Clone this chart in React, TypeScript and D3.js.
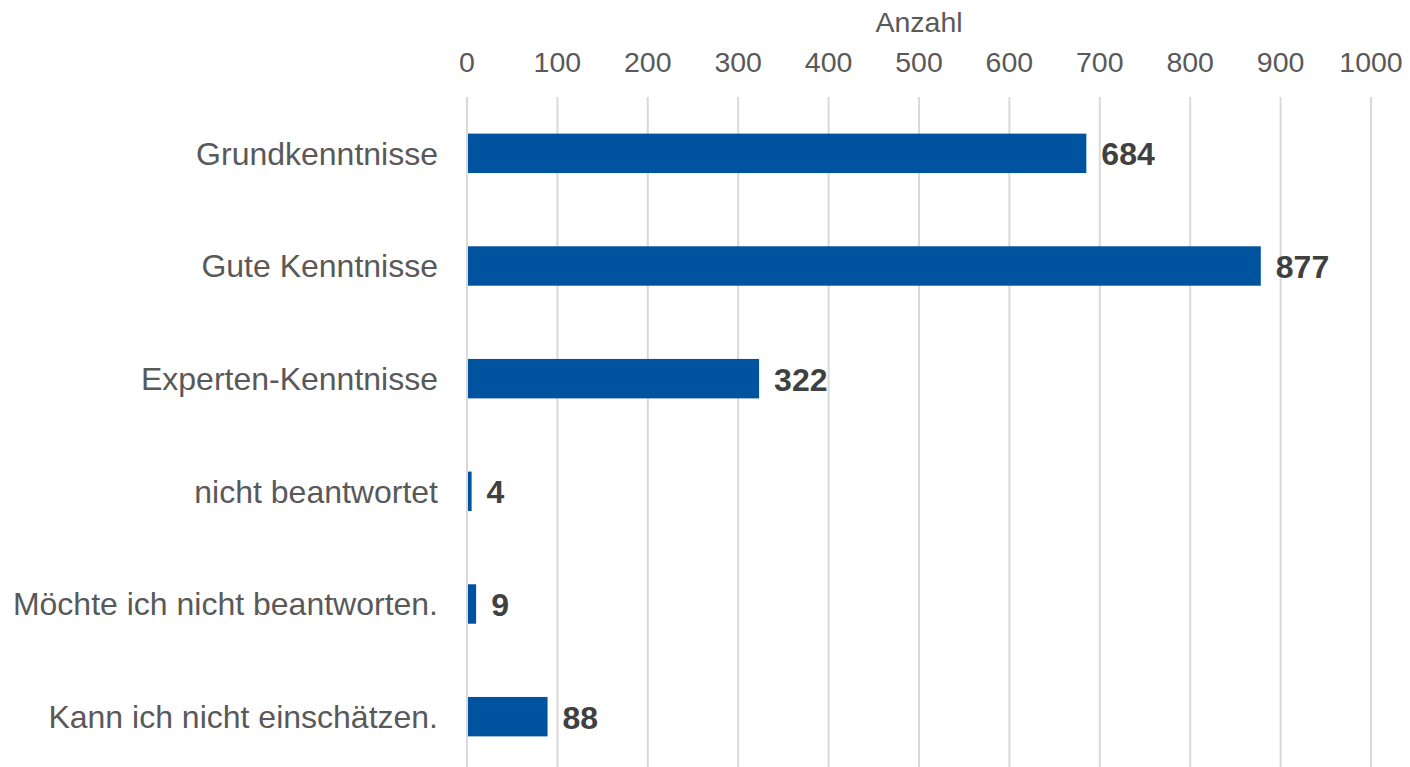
import React from "react";
import * as d3 from "d3";

const categories = [
  "Grundkenntnisse",
  "Gute Kenntnisse",
  "Experten-Kenntnisse",
  "nicht beantwortet",
  "Möchte ich nicht beantworten.",
  "Kann ich nicht einschätzen.",
];
const values = [684, 877, 322, 4, 9, 88];
const xTicks = [0, 100, 200, 300, 400, 500, 600, 700, 800, 900, 1000];
const axisTitle = "Anzahl";

const W = 1410;
const H = 767;

export default function App() {
  const x = d3.scaleLinear().domain([0, 1000]).range([467, 1371]);
  const y = d3
    .scaleBand<string>()
    .domain(categories)
    .range([97, 773])
    .paddingInner(0.65)
    .paddingOuter(0.325);
  const font = "'Liberation Sans', Arial, sans-serif";
  return (
    <svg
      width={W}
      height={H}
      style={{ position: "absolute", left: 0, top: 0, background: "#fff" }}
      fontFamily={font}
    >
      <text x={(x(0) + x(1000)) / 2} y={32} textAnchor="middle" fontSize={28.5} fill="#595959">
        {axisTitle}
      </text>
      {xTicks.map((t) => (
        <g key={t}>
          <line x1={x(t)} x2={x(t)} y1={97} y2={H} stroke="#d9d9d9" strokeWidth={2} />
          <text x={x(t)} y={72} textAnchor="middle" fontSize={28.5} fill="#595959">
            {t}
          </text>
        </g>
      ))}
      {categories.map((c, i) => {
        const yy = y(c)!;
        const bw = y.bandwidth();
        return (
          <g key={c}>
            <rect x={x(0) + 1} y={yy} width={x(values[i]) - x(0)} height={bw} fill="#00539f" />
            <text
              x={438}
              y={yy + bw / 2}
              dy="0.35em"
              textAnchor="end"
              fontSize={32}
              fill="#595959"
            >
              {c}
            </text>
            <text
              x={x(values[i]) + 16}
              y={yy + bw / 2}
              dy="0.37em"
              fontSize={32}
              fontWeight="bold"
              fill="#404040"
            >
              {values[i]}
            </text>
          </g>
        );
      })}
    </svg>
  );
}
